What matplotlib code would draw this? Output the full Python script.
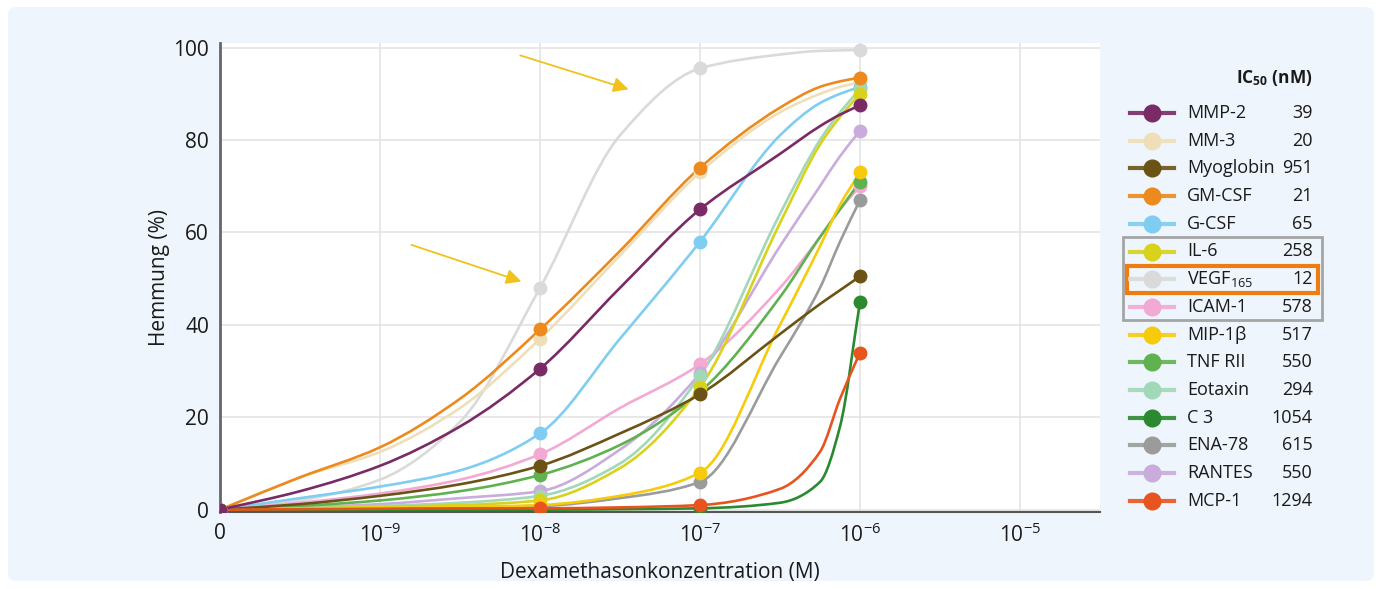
import numpy as np
import matplotlib
matplotlib.use("Agg")
import matplotlib.pyplot as plt
from matplotlib.path import Path
from matplotlib.patches import PathPatch, FancyBboxPatch, Rectangle
from matplotlib.lines import Line2D

plt.rcParams['font.family'] = ['Open Sans', 'DejaVu Sans']
plt.rcParams['mathtext.fontset'] = 'custom'
plt.rcParams['mathtext.rm'] = 'Open Sans'
plt.rcParams['mathtext.it'] = 'Open Sans:italic'
plt.rcParams['mathtext.bf'] = 'Open Sans:bold'

# --- data ---
names = ['MMP-2', 'MM-3', 'Myoglobin', 'GM-CSF', 'G-CSF', 'IL-6', r'VEGF$_{165}$',
         'ICAM-1', 'MIP-1β', 'TNF RII', 'Eotaxin', 'C 3', 'ENA-78', 'RANTES', 'MCP-1']
ic50 = [39, 20, 951, 21, 65, 258, 12, 578, 517, 550, 294, 1054, 615, 550, 1294]
colors = ['#7a2a64', '#efdfb8', '#6b5316', '#ec8a1e', '#7fcdf0', '#d8d21c', '#dadada',
          '#f2a9d4', '#f6cb0c', '#5fb24f', '#a2d8b8', '#2b8a2f', '#9b9b9b', '#c9abdc', '#e8541f']

# concentrations (M) at which the fitted curves were read; 0 = no dexamethasone
curve_conc = [0, 3.16e-10, 1e-9, 3.16e-9, 1e-8, 3.16e-8, 1e-7, 3.16e-7, 5.62e-7, 7.5e-7, 1e-6]
measured = [0, 4, 6, 10]   # indices in curve_conc that carry a marker

mmp2      = [0, 4.0, 9.5, 18.0, 30.5, 48.0, 65.0, 77.0, 83.0, 85.5, 87.5]
mm3       = [0, 7.0, 12.5, 22.0, 37.0, 55.0, 73.0, 86.0, 90.0, 91.5, 92.5]
myoglobin = [0, 1.2, 3.0, 5.5, 9.5, 16.5, 25.0, 38.0, 44.5, 47.5, 50.5]
gmcsf     = [0, 7.0, 13.5, 24.0, 39.0, 56.0, 74.0, 87.0, 91.5, 92.7, 93.5]
gcsf      = [0, 2.5, 5.0, 8.5, 16.5, 37.0, 58.0, 81.0, 88.0, 90.0, 91.5]
il6       = [0, 0.3, 0.6, 1.0, 2.0, 9.0, 26.5, 62.0, 79.0, 85.0, 90.0]
vegf      = [0, 2.0, 6.5, 19.0, 48.0, 81.0, 95.5, 98.5, 99.3, 99.4, 99.5]
icam1     = [0, 1.5, 3.5, 6.5, 12.0, 22.0, 31.5, 48.0, 59.0, 65.0, 70.0]
mip1b     = [0, 0.2, 0.4, 0.6, 1.0, 3.0, 8.0, 40.0, 57.0, 66.0, 73.0]
tnfr2     = [0, 0.8, 2.0, 4.0, 7.5, 14.0, 25.5, 46.0, 59.0, 65.0, 71.0]
eotaxin   = [0, 0.4, 0.8, 1.5, 3.0, 10.0, 29.0, 64.0, 80.0, 86.0, 91.0]
c3        = [0, 0.0, 0.0, 0.0, 0.0, 0.1, 0.3, 1.5, 6.0, 18.0, 45.0]
ena78     = [0, 0.2, 0.4, 0.6, 0.8, 2.5, 6.0, 33.0, 48.0, 58.0, 67.0]
rantes    = [0, 0.5, 1.2, 2.5, 4.0, 13.0, 29.5, 57.0, 70.0, 76.5, 82.0]
mcp1      = [0, 0.1, 0.2, 0.3, 0.3, 0.5, 1.0, 4.5, 12.5, 24.0, 34.0]

series = [mmp2, mm3, myoglobin, gmcsf, gcsf, il6, vegf, icam1, mip1b, tnfr2,
          eotaxin, c3, ena78, rantes, mcp1]

tick_labels = ['0', r'10$^{-9}$', r'10$^{-8}$', r'10$^{-7}$', r'10$^{-6}$', r'10$^{-5}$']


def pos(c):
    # axis is in decades, with "0" placed one decade left of 1e-9
    return 0.0 if c == 0 else np.log10(c) + 10


def smooth_path(x, y):
    # monotone cubic bezier through the read points
    x = np.asarray(x, float)
    y = np.asarray(y, float)
    h = np.diff(x)
    d = np.diff(y) / h
    m = np.zeros_like(y)
    m[0], m[-1] = d[0], d[-1]
    for i in range(1, len(x) - 1):
        if d[i - 1] * d[i] <= 0:
            m[i] = 0
        else:
            w1 = 2 * h[i] + h[i - 1]
            w2 = h[i] + 2 * h[i - 1]
            m[i] = (w1 + w2) / (w1 / d[i - 1] + w2 / d[i])
    verts = [(x[0], y[0])]
    codes = [Path.MOVETO]
    for i in range(len(x) - 1):
        verts += [(x[i] + h[i] / 3, y[i] + m[i] * h[i] / 3),
                  (x[i + 1] - h[i] / 3, y[i + 1] - m[i + 1] * h[i] / 3),
                  (x[i + 1], y[i + 1])]
        codes += [Path.CURVE4] * 3
    return Path(verts, codes)


W, H = 1381, 589
fig = plt.figure(figsize=(W / 100, H / 100), dpi=100)
fig.patch.set_facecolor('white')

# background panel + legend live on a pixel-space overlay axes
bg = fig.add_axes([0, 0, 1, 1], zorder=-1)
bg.set_xlim(0, W)
bg.set_ylim(H, 0)
bg.axis('off')
bg.add_patch(FancyBboxPatch((8, 7), W - 15, H - 15, boxstyle='round,pad=0,rounding_size=8',
                            facecolor='#eef5fc', edgecolor='none'))

ax = fig.add_axes([220 / W, (H - 512) / H, 880 / W, 469 / H])
ax.set_facecolor('white')
ax.set_xlim(0, 5.5)
ax.set_ylim(-0.5, 101)

xs = [pos(c) for c in curve_conc]
draw_order = [6, 1, 4, 7, 13, 10, 12, 9, 5, 8, 2, 11, 14, 3, 0]
for k in draw_order:
    vals = series[k]
    col = colors[k]
    ax.add_patch(PathPatch(smooth_path(xs, vals), facecolor='none', edgecolor=col,
                           lw=1.9, zorder=3, capstyle='round'))
    ax.plot([xs[i] for i in measured], [vals[i] for i in measured], 'o', color=col,
            ms=9, mec=col, zorder=4)

ax.set_xticks(range(6))
ax.set_xticklabels(tick_labels)
ax.set_yticks([0, 20, 40, 60, 80, 100])
ax.tick_params(length=0, labelsize=15, colors='#1a1a1a', pad=8)
ax.grid(True, color='#e4e4e4', lw=1.2, zorder=0)
for s in ['top', 'right']:
    ax.spines[s].set_visible(False)
ax.spines['left'].set_color('#666666')
ax.spines['left'].set_linewidth(2)
ax.spines['bottom'].set_color('#555555')
ax.spines['bottom'].set_linewidth(1.5)
ax.set_xlabel('Dexamethasonkonzentration (M)', fontsize=15, color='#1a1a1a', labelpad=11)
ax.set_ylabel('Hemmung (%)', fontsize=15, color='#1a1a1a', labelpad=2)

# yellow arrows pointing at the VEGF curve
arrow_kw = dict(arrowstyle='-|>,head_length=0.9,head_width=0.45', color='#f2c21a', lw=1.3)
ax.annotate('', xy=(2.57, 90.8), xytext=(1.86, 98.5), arrowprops=arrow_kw, zorder=5)
ax.annotate('', xy=(1.90, 49.2), xytext=(1.18, 57.5), arrowprops=arrow_kw, zorder=5)

# legend
row0, step = 113, 27.7
bg.text(1313, 78, r'IC$_{\mathbf{50}}$ (nM)', fontsize=12.5, fontweight='bold',
        ha='right', va='center', color='#1a1a1a')
for i, (nm, v, col) in enumerate(zip(names, ic50, colors)):
    y = row0 + i * step
    bg.add_line(Line2D([1130, 1174], [y, y], color=col, lw=3, alpha=0.9))
    bg.plot([1152], [y], 'o', color=col, ms=12)
    bg.text(1187, y, nm, fontsize=13, ha='left', va='center', color='#1a1a1a')
    bg.text(1313, y, str(v), fontsize=13, ha='right', va='center', color='#1a1a1a')

bg.add_patch(Rectangle((1123, 237), 199, 83, facecolor='none', edgecolor='#a5a5a5', lw=2))
bg.add_patch(Rectangle((1127, 266), 191, 27, facecolor='none', edgecolor='#ee7d11', lw=3))

fig.savefig('out.png', dpi=100, facecolor=fig.get_facecolor())
